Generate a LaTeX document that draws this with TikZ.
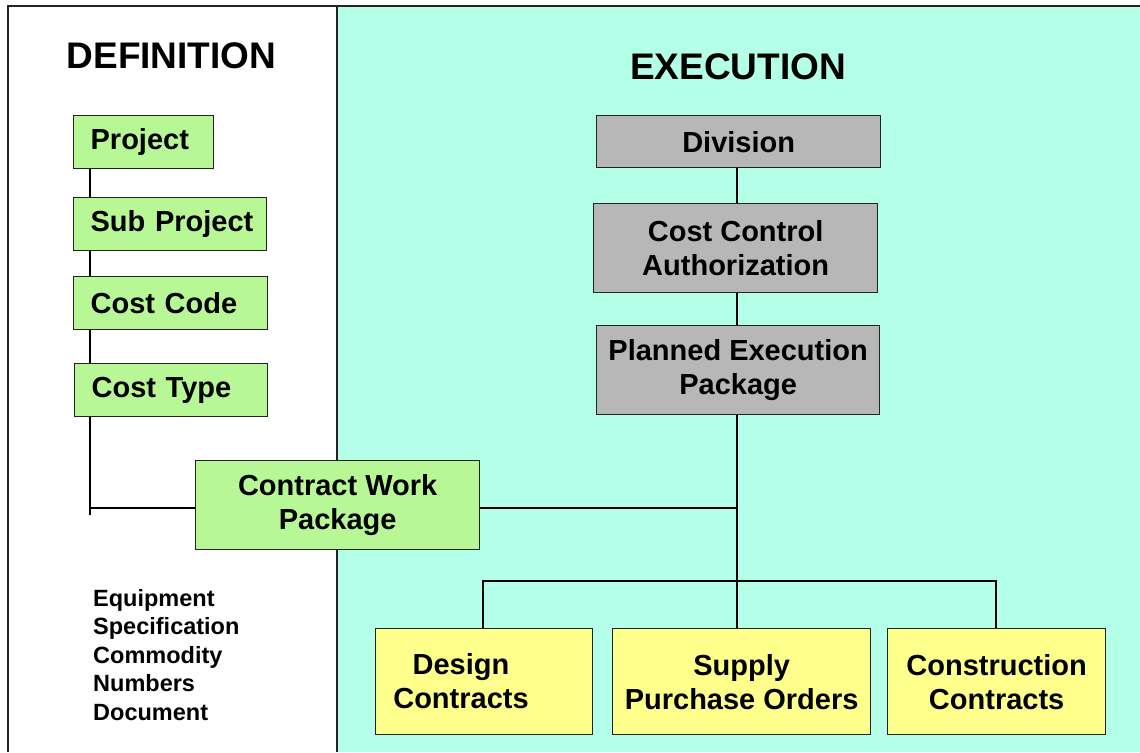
\documentclass[tikz,border=0pt]{standalone}
\usepackage{fontspec}
\setmainfont{Liberation Sans}
\definecolor{cyanbg}{RGB}{180,255,232}
\definecolor{grn}{RGB}{184,247,150}
\definecolor{gry}{RGB}{183,183,183}
\definecolor{ylw}{RGB}{255,255,140}
\definecolor{edge}{RGB}{35,35,35}
\begin{document}
\begin{tikzpicture}[x=1pt,y=-1pt,
  boxtext/.style={font=\fontsize{29}{34}\selectfont\bfseries},
  box/.style={draw=edge, line width=1.3pt, inner sep=0pt, anchor=north west, boxtext, align=center},
  defbox/.style={box, fill=grn, inner xsep=0pt, align=left, execute at begin node={\hspace*{17pt}}},
  grbox/.style={box, fill=gry},
  ylbox/.style={box, fill=ylw},
  conn/.style={draw=black, line width=1.3pt},
  title/.style={font=\fontsize{37}{40}\selectfont\bfseries, anchor=base, inner sep=0pt}]
\useasboundingbox (0,0) rectangle (1140,752);
% panels
\fill[cyanbg] (337,6) rectangle (1140,752);
\draw[edge, line width=1.3pt] (337,6) -- (337,752);
\draw[edge, line width=2pt] (8,752) -- (8,6) -- (1140,6);
% titles
\node[title] (tdef) at (171.5,69) {DEFINITION};
\node[title] (texe) at (738,80) {EXECUTION};
% definition boxes
\node[defbox, text width=140pt, minimum height=53pt] (proj) at (73,115) {Project};
\node[defbox, text width=193pt, minimum height=53pt] (sub) at (73,197) {Sub Project};
\node[defbox, text width=194pt, minimum height=53pt] (code) at (73,276) {Cost Code};
\node[defbox, text width=193pt, minimum height=53pt] (type) at (74,363) {Cost Type};
\node[box, fill=grn, minimum width=284pt, minimum height=89pt] (cwp) at (195,460) {Contract Work\\Package};
% execution boxes
\node[grbox, minimum width=284pt, minimum height=52pt] (div) at (596,115) {Division};
\node[grbox, minimum width=284pt, minimum height=89pt] (cca) at (593,203) {Cost Control\\Authorization};
\node[grbox, minimum width=283pt, minimum height=89pt] (pep) at (596,325) {Planned Execution\\Package};
% contract boxes
\node[ylbox, minimum width=217pt, minimum height=106pt] (des) at (375,628) {};
\node[boxtext, align=center, inner sep=0pt] (destxt) at (461,681) {Design\\Contracts};
\node[ylbox, minimum width=258pt, minimum height=106pt] (sup) at (612,628) {Supply\\Purchase Orders};
\node[ylbox, minimum width=218pt, minimum height=106pt] (con) at (887,628) {Construction\\Contracts};
% list
\node[anchor=north west, inner sep=0pt, align=left, font=\fontsize{23.5}{28.5}\selectfont\bfseries] (list) at (93,589)
  {Equipment\\Specification\\Commodity\\Numbers\\Document};
% helper coordinates
\coordinate (L) at (90,508);
\coordinate (Lend) at (90,515);
\coordinate (S) at (737,508);
\coordinate (busL) at (483,581);
\coordinate (busR) at (996,581);
% definition connectors
\draw[conn] (proj.south -| L) -- (sub.north -| L);
\draw[conn] (sub.south -| L) -- (code.north -| L);
\draw[conn] (code.south -| L) -- (type.north -| L);
\draw[conn] (type.south -| L) -- (Lend);
\draw[conn, line width=2pt] (L) -- (L -| cwp.west);
% execution connectors
\draw[conn] (div.south -| S) -- (cca.north -| S);
\draw[conn] (cca.south -| S) -- (pep.north -| S);
\draw[conn] (pep.south -| S) -- (sup.north -| S);
\draw[conn] (cwp.east |- S) -- (S);
\draw[conn] (busL |- des.north) -- (busL) -- (busR) -- (busR |- con.north);
\end{tikzpicture}
\end{document}
